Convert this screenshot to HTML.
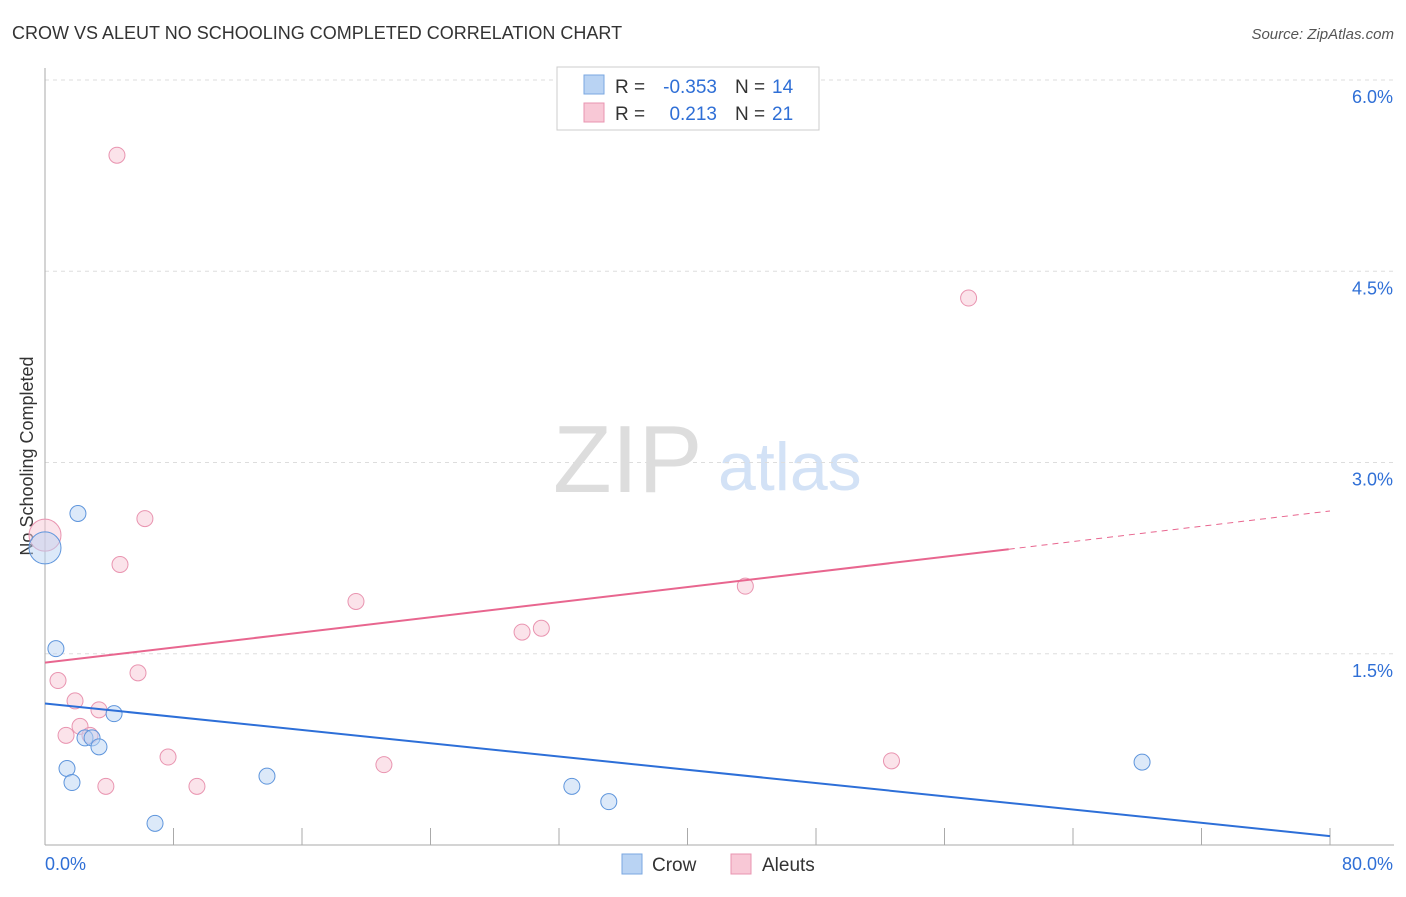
<!DOCTYPE html>
<html><head><meta charset="utf-8"><style>
body{margin:0;background:#fff;font-family:"Liberation Sans",sans-serif}
svg text{font-family:"Liberation Sans",sans-serif}
</style></head><body>
<svg id="c" width="1406" height="892">
<text x="12" y="39" font-size="18" fill="#333">CROW VS ALEUT NO SCHOOLING COMPLETED CORRELATION CHART</text>
<text x="1394" y="39" font-size="15" fill="#555" font-style="italic" text-anchor="end">Source: ZipAtlas.com</text>
<text x="553" y="492" font-size="96" fill="#ddd" font-family="Liberation Serif">ZIP</text>
<text x="718" y="490" font-size="68" fill="#d3e2f6">atlas</text>
<text transform="translate(33,456) rotate(-90)" font-size="18" fill="#333" text-anchor="middle">No Schooling Completed</text>
<g id="grid"></g><g id="marks"></g>
<g>
<rect x="557" y="67" width="262" height="63" fill="#fff" stroke="#ccc"/>
<rect x="584" y="75" width="20" height="19" fill="#b9d3f3" stroke="#7aa7e0"/>
<rect x="584" y="103" width="20" height="19" fill="#f8c8d6" stroke="#e994b0"/>
<text x="615" y="93" font-size="19" fill="#333">R =</text>
<text x="717" y="93" font-size="19" fill="#2f6fd6" text-anchor="end">-0.353</text>
<text x="735" y="93" font-size="19" fill="#333">N =</text>
<text x="772" y="93" font-size="19" fill="#2f6fd6">14</text>
<text x="615" y="120" font-size="19" fill="#333">R =</text>
<text x="717" y="120" font-size="19" fill="#2f6fd6" text-anchor="end">0.213</text>
<text x="735" y="120" font-size="19" fill="#333">N =</text>
<text x="772" y="120" font-size="19" fill="#2f6fd6">21</text>
</g>
<g>
<rect x="622" y="854" width="20" height="20" fill="#b9d3f3" stroke="#7aa7e0"/>
<text x="652" y="871" font-size="19" fill="#333">Crow</text>
<rect x="731" y="854" width="20" height="20" fill="#f8c8d6" stroke="#e994b0"/>
<text x="762" y="871" font-size="19" fill="#333">Aleuts</text>
</g>
</svg>
<script>
const yTicks=[1.5,3.0,4.5,6.0];
const yTickLabels=["1.5%","3.0%","4.5%","6.0%"];
const xTickLabels=["0.0%","80.0%"];
const crowX=[2.05,0,0.68,4.3,2.49,2.93,3.36,1.37,1.68,6.85,13.82,32.8,35.1,68.3];
const crowY=[2.6,2.33,1.54,1.03,0.84,0.84,0.77,0.6,0.49,0.17,0.54,0.46,0.34,0.65];
const crowR=[8,16,8,8,8,8,8,8,8,8,8,8,8,8];
const aleutX=[4.48,57.5,6.22,0,4.67,19.36,43.6,29.7,30.9,0.81,5.79,1.87,3.36,2.18,1.31,2.8,7.66,3.79,9.46,21.1,52.7];
const aleutY=[5.41,4.29,2.56,2.43,2.2,1.91,2.03,1.67,1.7,1.29,1.35,1.13,1.06,0.93,0.86,0.86,0.69,0.46,0.46,0.63,0.66];
const aleutR=[8,8,8,16,8,8,8,8,8,8,8,8,8,8,8,8,8,8,8,8,8];
const crowLine=[[0,1.11],[80,0.07]];
const aleutLine=[[0,1.43],[60,2.32],[80,2.62]];
const X=v=>45+v/80*1285, Y=v=>845-v*127.5;
const NS="http://www.w3.org/2000/svg";
function mk(p,t,a){const e=document.createElementNS(NS,t);for(const k in a)e.setAttribute(k,a[k]);p.appendChild(e);return e;}
const g=document.getElementById('grid'),m=document.getElementById('marks');
yTicks.forEach((t,i)=>{
 const l=mk(g,'line',{x1:45,x2:1394,y1:Y(t),y2:Y(t),stroke:'#ddd','stroke-dasharray':'4,4'});
 
 
 const tx=mk(g,'text',{x:1393,y:Y(t)+23,'font-size':18,fill:'#2f6fd6','text-anchor':'end'});tx.textContent=yTickLabels[i];
 
 
});
mk(g,'line',{x1:45,x2:45,y1:68,y2:845,stroke:'#aaa'});
mk(g,'line',{x1:45,x2:1394,y1:845,y2:845,stroke:'#aaa'});
for(let i=1;i<=10;i++){const x=X(i*8);mk(g,'line',{x1:x,x2:x,y1:828,y2:845,stroke:'#aaa'});}
xTickLabels.forEach((s,i)=>{const t=mk(g,'text',{x:i?1393:45,y:870,'font-size':18,fill:'#2f6fd6','text-anchor':i?'end':'start'});t.textContent=s;
 
 });
function pts(xs,ys,rs,fill,stroke,name){xs.forEach((x,i)=>{const c=mk(m,'circle',{cx:X(x),cy:Y(ys[i]),r:rs[i],fill:fill,stroke:stroke,'fill-opacity':0.5});
 
 });}
pts(aleutX,aleutY,aleutR,'#f8c8d6','#e994b0','aleut-point');
pts(crowX,crowY,crowR,'#b9d3f3','#5e95dc','crow-point');
const cl=mk(m,'line',{x1:X(crowLine[0][0]),y1:Y(crowLine[0][1]),x2:X(crowLine[1][0]),y2:Y(crowLine[1][1]),stroke:'#2d6fd8','stroke-width':2});


const al=mk(m,'line',{x1:X(aleutLine[0][0]),y1:Y(aleutLine[0][1]),x2:X(aleutLine[1][0]),y2:Y(aleutLine[1][1]),stroke:'#e8668f','stroke-width':2});


const ad=mk(m,'line',{x1:X(aleutLine[1][0]),y1:Y(aleutLine[1][1]),x2:X(aleutLine[2][0]),y2:Y(aleutLine[2][1]),stroke:'#e8668f','stroke-width':1,'stroke-dasharray':'6,5'});


</script>
</body></html>
